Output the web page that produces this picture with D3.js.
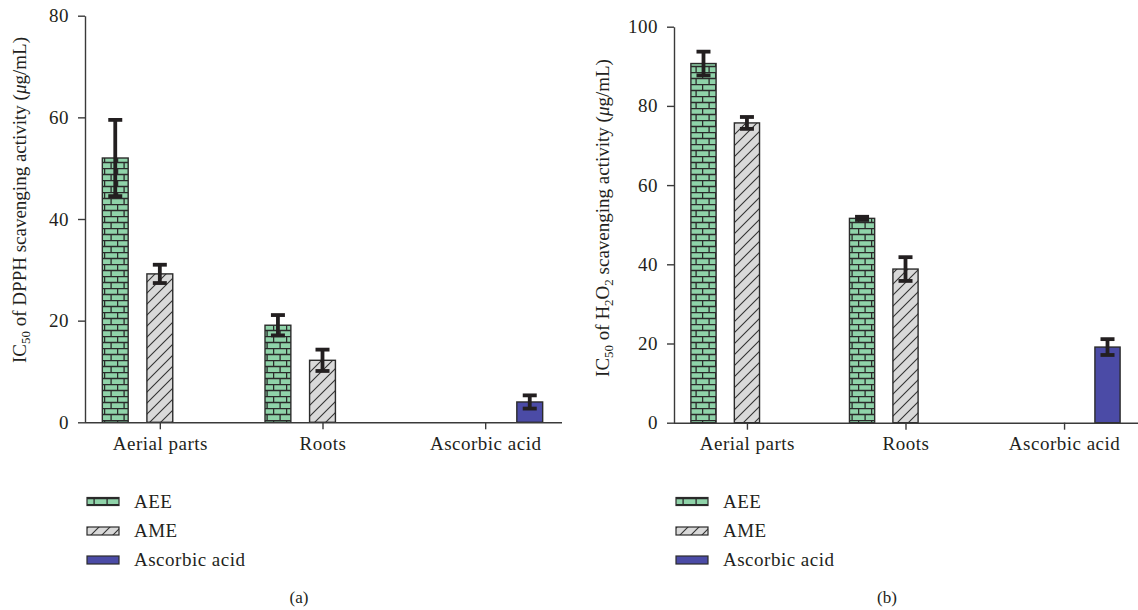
<!DOCTYPE html>
<html>
<head>
<meta charset="utf-8">
<script src="https://cdn.jsdelivr.net/npm/d3@7"></script>
<style>
  html, body { margin: 0; padding: 0; background: #fff; }
  svg { display: block; }
  text { font-family: "Liberation Serif", "DejaVu Serif", serif; fill: #231f20; }
</style>
</head>
<body>
<svg id="chart" width="1138" height="610"></svg>
<script>
// ---- Data ----
const categories = ["Aerial parts", "Roots", "Ascorbic acid"];
const series = ["AEE", "AME", "Ascorbic acid"];

// Panel (a): IC50 of DPPH scavenging activity
const dpphAEE = [52.0, 19.1, null];
const dpphAME = [29.2, 12.2, null];
const dpphAsc = [null, null, 4.0];
const dpphAEEErr = [7.5, 2.0, null];
const dpphAMEErr = [1.8, 2.1, null];
const dpphAscErr = [null, null, 1.3];
const dpphTicks = [0, 20, 40, 60, 80];

// Panel (b): IC50 of H2O2 scavenging activity
const h2o2AEE = [90.7, 51.6, null];
const h2o2AME = [75.7, 38.8, null];
const h2o2Asc = [null, null, 19.1];
const h2o2AEEErr = [3.0, 0.4, null];
const h2o2AMEErr = [1.5, 3.0, null];
const h2o2AscErr = [null, null, 2.0];
const h2o2Ticks = [0, 20, 40, 60, 80, 100];

// ---- Styling ----
const ink = "#231f20";
const axisCol = "#3a3a3a";
const FS = 19, LS = 0.5;
const svg = d3.select("#chart");
const defs = svg.append("defs");

// brick pattern
const brick = defs.append("pattern").attr("id", "brick")
  .attr("patternUnits", "userSpaceOnUse").attr("width", 13).attr("height", 12);
brick.append("rect").attr("width", 13).attr("height", 12).attr("fill", "#8fd3a9");
brick.append("path")
  .attr("d", "M0,0.5H13M0,6.5H13M0.6,0V6.5M7.1,6.5V12")
  .attr("stroke", "#2a2a2a").attr("stroke-width", 1.3).attr("fill", "none");

// hatch pattern
const hatch = defs.append("pattern").attr("id", "hatch")
  .attr("patternUnits", "userSpaceOnUse").attr("width", 11).attr("height", 11);
hatch.append("rect").attr("width", 11).attr("height", 11).attr("fill", "#d9d9d9");
hatch.append("path")
  .attr("d", "M0,11L11,0M-2,2L2,-2M9,13L13,9")
  .attr("stroke", "#333").attr("stroke-width", 1.1).attr("fill", "none");

const fills = { "AEE": "url(#brick)", "AME": "url(#hatch)", "Ascorbic acid": "#4b4ba6" };

function drawPanel(cfg) {
  const g = svg.append("g");
  const y = d3.scaleLinear().domain(cfg.domain).range([cfg.y0, cfg.yTop]);
  const x = d3.scalePoint().domain(categories).range([cfg.x0, cfg.x1]).padding(0.46);
  const gs = x.step();
  const ss = 0.274 * gs;
  const sub = d3.scaleBand().domain(series).range([-1.29 * ss, 1.29 * ss]).paddingInner(0.42);

  // bars
  const data = [];
  series.forEach((s, si) => {
    categories.forEach((c, ci) => {
      const v = cfg.values[si][ci];
      if (v != null) data.push({ s, c, v, e: cfg.errors[si][ci] });
    });
  });

  g.selectAll("rect.bar").data(data).join("rect")
    .attr("class", "bar")
    .attr("x", d => x(d.c) + sub(d.s))
    .attr("y", d => y(d.v))
    .attr("width", sub.bandwidth())
    .attr("height", d => y(0) - y(d.v))
    .attr("fill", d => fills[d.s])
    .attr("stroke", "#2b2b2b").attr("stroke-width", 1.4);

  // error bars
  const capW = 14, th = 3.8;
  const eb = g.selectAll("g.err").data(data).join("g").attr("class", "err");
  eb.append("line")
    .attr("x1", d => x(d.c) + sub(d.s) + sub.bandwidth() / 2)
    .attr("x2", d => x(d.c) + sub(d.s) + sub.bandwidth() / 2)
    .attr("y1", d => y(d.v + d.e))
    .attr("y2", d => y(d.v - d.e))
    .attr("stroke", ink).attr("stroke-width", th);
  [1, -1].forEach(sign => {
    eb.append("line")
      .attr("x1", d => x(d.c) + sub(d.s) + sub.bandwidth() / 2 - capW / 2)
      .attr("x2", d => x(d.c) + sub(d.s) + sub.bandwidth() / 2 + capW / 2)
      .attr("y1", d => y(d.v + sign * d.e))
      .attr("y2", d => y(d.v + sign * d.e))
      .attr("stroke", ink).attr("stroke-width", th);
  });

  // y axis
  const ya = g.append("g").attr("transform", `translate(${cfg.x0},0)`)
    .call(d3.axisLeft(y).tickValues(cfg.ticks).tickSize(7).tickPadding(9).tickSizeOuter(0));
  ya.select(".domain").attr("stroke", axisCol).attr("stroke-width", 1.4);
  ya.selectAll(".tick line").attr("stroke", axisCol).attr("stroke-width", 1.4);
  ya.selectAll(".tick text").attr("font-size", FS).attr("letter-spacing", LS)
    .attr("font-family", "Liberation Serif, serif").attr("fill", ink);

  // x axis
  const xa = g.append("g").attr("transform", `translate(0,${cfg.y0})`)
    .call(d3.axisBottom(x).tickSize(7).tickPadding(7).tickSizeOuter(0));
  xa.select(".domain").attr("stroke", axisCol).attr("stroke-width", 1.4)
    .attr("d", `M${cfg.x0},0.5H${cfg.xEnd}`);
  xa.selectAll(".tick line").attr("stroke", axisCol).attr("stroke-width", 1.4);
  xa.selectAll(".tick text").attr("font-size", FS).attr("letter-spacing", LS)
    .attr("font-family", "Liberation Serif, serif").attr("fill", ink);

  // y axis title
  const t = g.append("text")
    .attr("transform", `translate(${cfg.titleX},${cfg.titleY}) rotate(-90)`)
    .attr("text-anchor", "middle").attr("font-size", FS);
  cfg.title.forEach(p => {
    const ts = t.append("tspan").text(p.t);
    if (p.sub) ts.attr("font-size", 13).attr("dy", 4);
    else if (p.after) ts.attr("dy", -4);
    if (p.it) ts.attr("font-style", "italic");
  });

  // legend
  const lg = g.append("g").attr("transform", `translate(${cfg.legX},0)`);
  const rows = [501.5, 531, 560];
  series.forEach((s, i) => {
    lg.append("rect").attr("x", 0).attr("y", rows[i] - 4).attr("width", 32).attr("height", 8)
      .attr("fill", fills[s]).attr("stroke", "#2b2b2b").attr("stroke-width", 1.2);
    lg.append("text").attr("x", 47).attr("y", rows[i] + 6).attr("font-size", FS)
      .attr("letter-spacing", LS).text(s);
  });

  // caption
  g.append("text").attr("x", cfg.capX).attr("y", 603).attr("text-anchor", "middle")
    .attr("font-size", 17).text(cfg.caption);
}

drawPanel({
  domain: [0, 80], ticks: dpphTicks, y0: 422.3, yTop: 15.7,
  x0: 85, x1: 560, xEnd: 562,
  values: [dpphAEE, dpphAME, dpphAsc], errors: [dpphAEEErr, dpphAMEErr, dpphAscErr],
  title: [{ t: "IC" }, { t: "50", sub: true }, { t: " of DPPH scavenging activity (", after: true }, { t: "μ", it: true }, { t: "g/mL)" }],
  titleX: 26, titleY: 200, legX: 87, capX: 299, caption: "(a)"
});

drawPanel({
  domain: [0, 100], ticks: h2o2Ticks, y0: 422.7, yTop: 26.7,
  x0: 674, x1: 1137, xEnd: 1138,
  values: [h2o2AEE, h2o2AME, h2o2Asc], errors: [h2o2AEEErr, h2o2AMEErr, h2o2AscErr],
  title: [{ t: "IC" }, { t: "50", sub: true }, { t: " of H", after: true }, { t: "2", sub: true }, { t: "O", after: true }, { t: "2", sub: true }, { t: " scavenging activity (", after: true }, { t: "μ", it: true }, { t: "g/mL)" }],
  titleX: 609, titleY: 218, legX: 676, capX: 887, caption: "(b)"
});
</script>
</body>
</html>
